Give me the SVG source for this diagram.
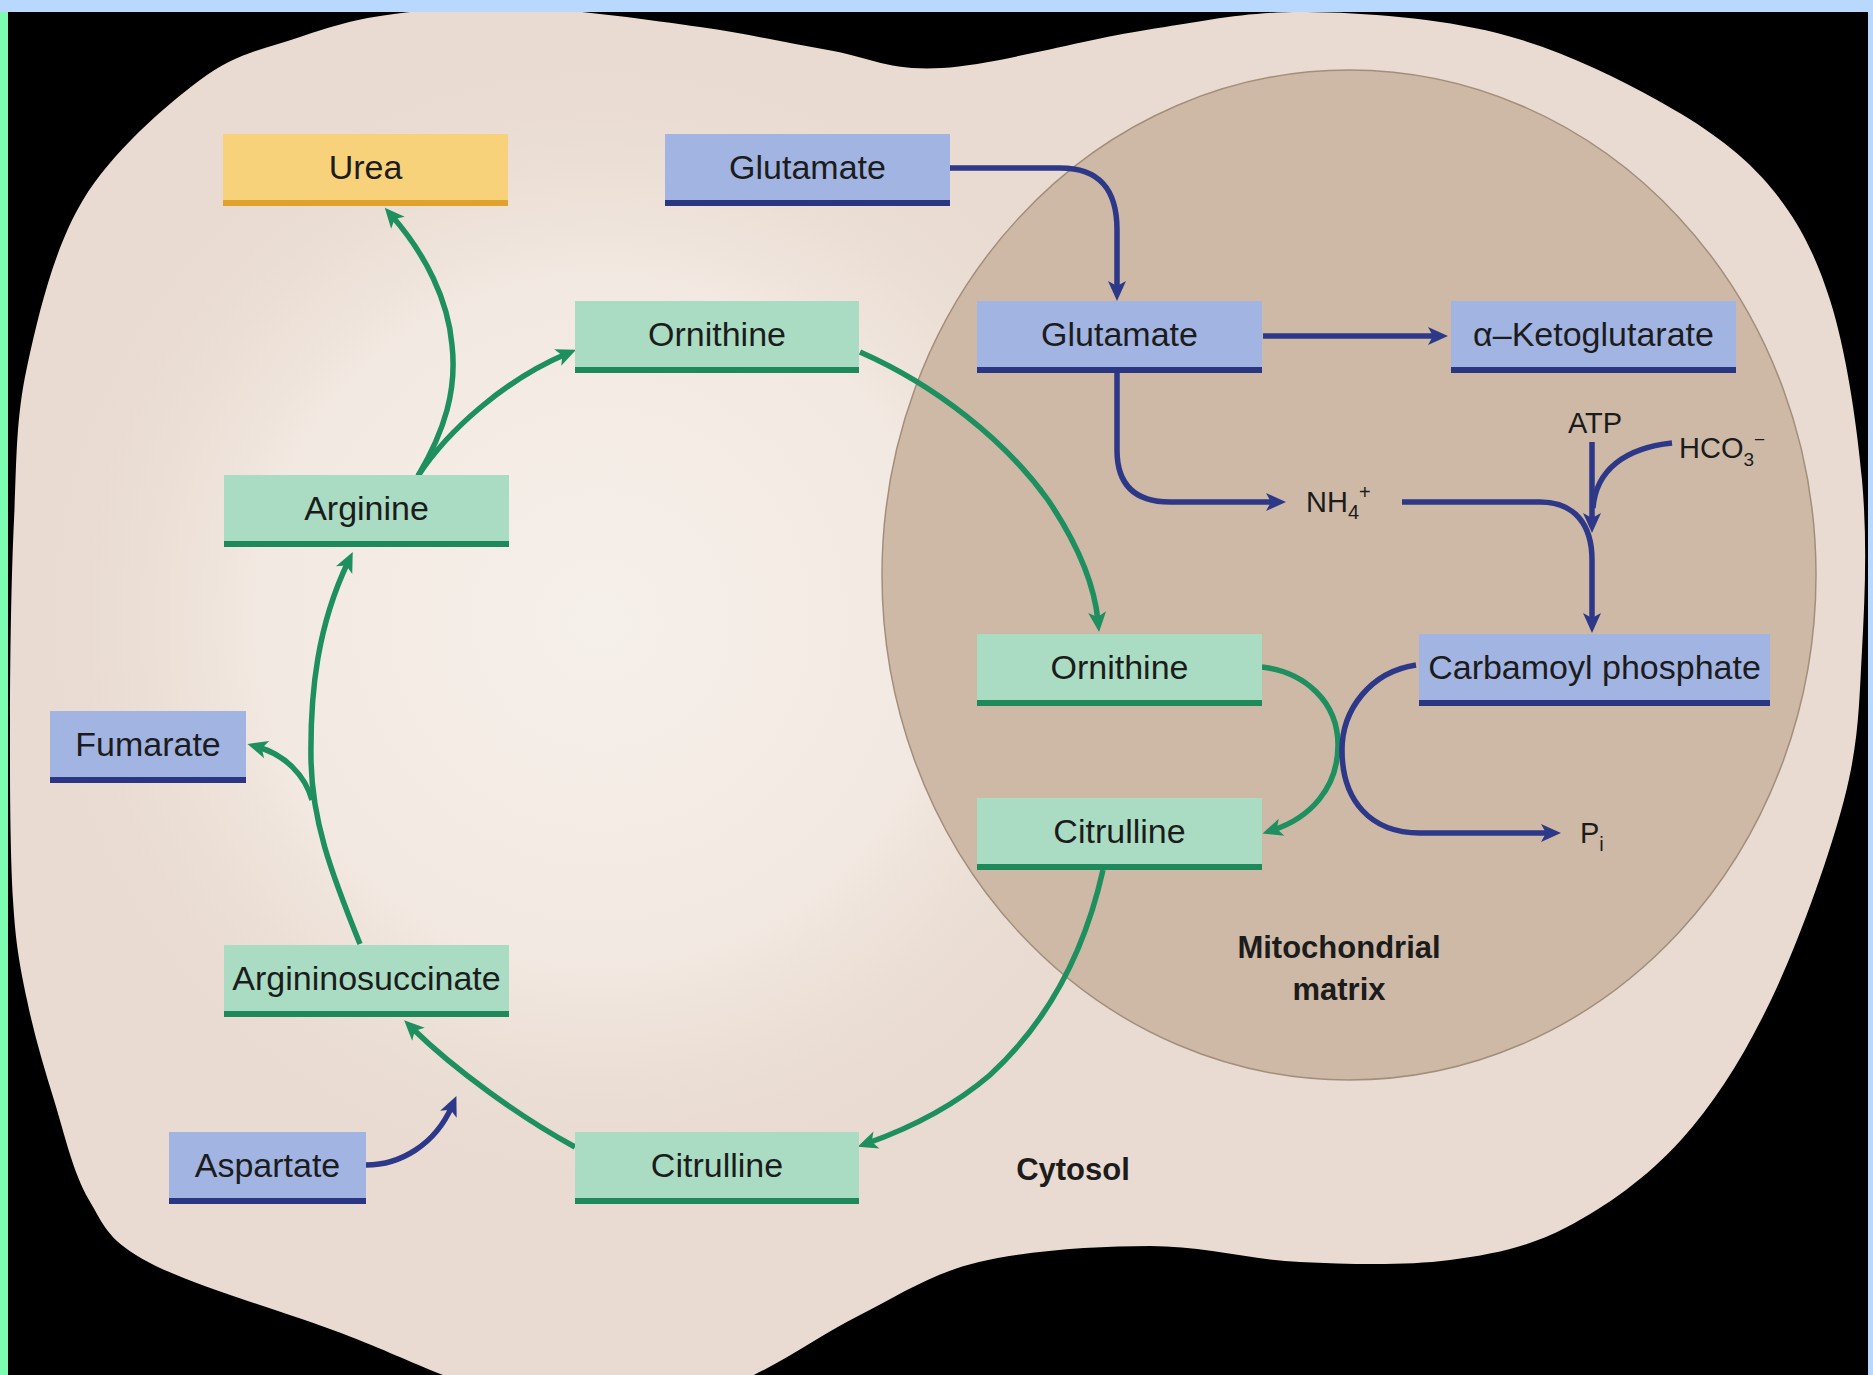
<svg xmlns="http://www.w3.org/2000/svg" width="1873" height="1375" viewBox="0 0 1873 1375">
<defs>
<radialGradient id="glow" cx="600" cy="620" r="580" gradientUnits="userSpaceOnUse">
<stop offset="0" stop-color="#f6f0ea"/>
<stop offset="0.6" stop-color="#f3eae3" stop-opacity="0.9"/>
<stop offset="1" stop-color="#e9dbd1" stop-opacity="0"/>
</radialGradient>
<marker id="ag" markerUnits="userSpaceOnUse" markerWidth="40" markerHeight="40" viewBox="-20 -20 40 40" refX="0" refY="0" orient="auto"><path d="M11,0 L-9,-9 L-4,0 L-9,9 Z" fill="#1e8f5e"/></marker>
<marker id="ab" markerUnits="userSpaceOnUse" markerWidth="40" markerHeight="40" viewBox="-20 -20 40 40" refX="0" refY="0" orient="auto"><path d="M11,0 L-9,-9 L-4,0 L-9,9 Z" fill="#2d3888"/></marker>
</defs>
<style>
.lbl{font-family:"Liberation Sans",Arial,sans-serif;font-size:34px;fill:#1c1c1c;text-anchor:middle}
.sm{font-family:"Liberation Sans",Arial,sans-serif;font-size:29px;fill:#1c1c1c}
.reg{font-family:"Liberation Sans",Arial,sans-serif;font-size:31px;font-weight:bold;fill:#1c1c1c;text-anchor:middle}
.gf{fill:#a9dcc2}.gl{fill:#1e8a5c}
.bf{fill:#a2b4e2}.bl{fill:#2b3682}
.yf{fill:#f8d27a}.yl{fill:#dfa22a}
.g{fill:none;stroke:#1e8f5e;stroke-width:5.5;marker-end:url(#ag)}
.gn{fill:none;stroke:#1e8f5e;stroke-width:5.5}
.b{fill:none;stroke:#2d3888;stroke-width:5.5;marker-end:url(#ab)}
.bn{fill:none;stroke:#2d3888;stroke-width:5.5}
</style>
<rect x="0" y="0" width="1873" height="1375" fill="#000"/>
<g id="cytosol">
<path fill="#e9dbd1" d="M394,14 C432.3,9.2 479,5.8 530,8 C581,10.2 650.3,20 700,27 C749.7,34 787.7,43.2 828,50 C868.3,56.8 889,71.3 942,68 C995,64.7 1085.3,39.3 1146,30 C1206.7,20.7 1247.5,11.5 1306,12 C1364.5,12.5 1438.5,18.3 1497,33 C1555.5,47.7 1612,75 1657,100 C1702,125 1738.2,149.7 1767,183 C1795.8,216.3 1814.2,250.5 1830,300 C1845.8,349.5 1856.7,421.7 1862,480 C1867.3,538.3 1865,596.7 1862,650 C1859,703.3 1859.2,741.7 1844,800 C1828.8,858.3 1798.2,943.3 1771,1000 C1743.8,1056.7 1715,1102.2 1681,1140 C1647,1177.8 1605.5,1207 1567,1227 C1528.5,1247 1494.5,1254.2 1450,1260 C1405.5,1265.8 1350,1264.3 1300,1262 C1250,1259.7 1203.5,1246 1150,1246 C1096.5,1246 1027.3,1250.5 979,1262 C930.7,1273.5 899.3,1295.3 860,1315 C820.7,1334.7 786.3,1360.8 743,1380 C699.7,1399.2 647.8,1430 600,1430 C552.2,1430 499.2,1396.2 456,1380 C412.8,1363.8 392,1352.5 341,1333 C290,1313.5 192,1285.2 150,1263 C108,1240.8 105,1227.2 89,1200 C73,1172.8 64.3,1133.3 54,1100 C43.7,1066.7 33.8,1033.3 27,1000 C20.2,966.7 15.8,946.7 13,900 C10.2,853.3 9.8,783.3 10,720 C10.2,656.7 11.2,578.8 14,520 C16.8,461.2 15.5,420.3 27,367 C38.5,313.7 54.2,247.8 83,200 C111.8,152.2 163.8,107.2 200,80 C236.2,52.8 267.7,48 300,37 C332.3,26 355.7,18.8 394,14 Z"/>
<ellipse cx="600" cy="620" rx="580" ry="580" fill="url(#glow)"/>
<text class="reg" x="1073" y="1180">Cytosol</text>
</g>
<g id="mitochondrion">
<ellipse cx="1349" cy="575" rx="467" ry="505" fill="#cdb9a6" stroke="#a38e7c" stroke-width="1.5"/>
<text class="reg" x="1339" y="958">Mitochondrial</text>
<text class="reg" x="1339" y="1000">matrix</text>
</g>
<g id="connectors">
<path class="b" d="M950,168 L1060,168 C1100,168 1117,190 1117,230 L1117,290"/>
<path class="b" d="M1263,336 L1437,336"/>
<path class="b" d="M1117,373 L1117,450 C1117,485 1135,502 1170,502 L1275,502"/>
<path class="b" d="M1402,502 L1540,502 C1575,502 1592,525 1592,560 L1592,622"/>
<path class="b" d="M1592,442 L1592,522"/>
<path class="bn" d="M1672,443 C1625,448 1596,470 1593,508"/>
<path class="g" d="M1262,667 C1305,672 1338,702 1338,745 C1338,788 1310,818 1273,830"/>
<path class="b" d="M1416,665 C1370,672 1342,710 1342,750 C1342,800 1370,833 1420,833 L1550,833"/>
<path class="g" d="M860,352 C935,385 1005,440 1048,500 C1075,540 1094,580 1098,621"/>
<path class="g" d="M1103,870 C1085,950 1050,1020 990,1075 C955,1105 910,1128 868,1143"/>
<path class="g" d="M575,1147 C520,1117 455,1070 412,1028"/>
<path class="b" d="M366,1165 C400,1165 435,1145 452,1106"/>
<path class="g" d="M360,944 C330,870 312,820 311,760 C310,690 318,625 348,562"/>
<path class="g" d="M312,800 C305,775 285,755 258,747"/>
<path class="g" d="M418,476 C445,430 457,390 452,345 C448,300 426,255 392,216"/>
<path class="g" d="M418,476 C448,430 505,380 566,354"/>
</g>
<g id="urea"><rect class="yf" x="223" y="134" width="285" height="72"/><rect class="yl" x="223" y="200" width="285" height="6"/><text class="lbl" x="365.5" y="179">Urea</text></g>
<g id="glutamate-cyt"><rect class="bf" x="665" y="134" width="285" height="72"/><rect class="bl" x="665" y="200" width="285" height="6"/><text class="lbl" x="807.5" y="179">Glutamate</text></g>
<g id="ornithine-cyt"><rect class="gf" x="575" y="301" width="284" height="72"/><rect class="gl" x="575" y="367" width="284" height="6"/><text class="lbl" x="717" y="346">Ornithine</text></g>
<g id="glutamate-mat"><rect class="bf" x="977" y="301" width="285" height="72"/><rect class="bl" x="977" y="367" width="285" height="6"/><text class="lbl" x="1119.5" y="346">Glutamate</text></g>
<g id="ketoglutarate"><rect class="bf" x="1451" y="301" width="285" height="72"/><rect class="bl" x="1451" y="367" width="285" height="6"/><text class="lbl" x="1593.5" y="346">α–Ketoglutarate</text></g>
<g id="arginine"><rect class="gf" x="224" y="475" width="285" height="72"/><rect class="gl" x="224" y="541" width="285" height="6"/><text class="lbl" x="366.5" y="520">Arginine</text></g>
<g id="ornithine-mat"><rect class="gf" x="977" y="634" width="285" height="72"/><rect class="gl" x="977" y="700" width="285" height="6"/><text class="lbl" x="1119.5" y="679">Ornithine</text></g>
<g id="carbamoyl"><rect class="bf" x="1419" y="634" width="351" height="72"/><rect class="bl" x="1419" y="700" width="351" height="6"/><text class="lbl" x="1594.5" y="679">Carbamoyl phosphate</text></g>
<g id="fumarate"><rect class="bf" x="50" y="711" width="196" height="72"/><rect class="bl" x="50" y="777" width="196" height="6"/><text class="lbl" x="148" y="756">Fumarate</text></g>
<g id="citrulline-mat"><rect class="gf" x="977" y="798" width="285" height="72"/><rect class="gl" x="977" y="864" width="285" height="6"/><text class="lbl" x="1119.5" y="843">Citrulline</text></g>
<g id="argininosuccinate"><rect class="gf" x="224" y="945" width="285" height="72"/><rect class="gl" x="224" y="1011" width="285" height="6"/><text class="lbl" x="366.5" y="990">Argininosuccinate</text></g>
<g id="aspartate"><rect class="bf" x="169" y="1132" width="197" height="72"/><rect class="bl" x="169" y="1198" width="197" height="6"/><text class="lbl" x="267.5" y="1177">Aspartate</text></g>
<g id="citrulline-cyt"><rect class="gf" x="575" y="1132" width="284" height="72"/><rect class="gl" x="575" y="1198" width="284" height="6"/><text class="lbl" x="717" y="1177">Citrulline</text></g>
<g id="nh4"><text class="sm" x="1306" y="512" font-size="31">NH<tspan font-size="20" dy="7">4</tspan><tspan font-size="20" dy="-20">+</tspan></text></g>
<g id="atp"><text class="sm" x="1595" y="433" text-anchor="middle">ATP</text></g>
<g id="hco3"><text class="sm" x="1679" y="458">HCO<tspan font-size="19" dy="8">3</tspan><tspan font-size="19" dy="-20">−</tspan></text></g>
<g id="pi"><text class="sm" x="1580" y="843" font-size="31">P<tspan font-size="20" dy="8">i</tspan></text></g>
<rect x="0" y="0" width="1873" height="12" fill="#b9d8fe"/>
<rect x="0" y="12" width="8" height="1363" fill="#7dfdb2"/>
<rect x="1868" y="12" width="5" height="1363" fill="#b9d8fe"/>
</svg>
